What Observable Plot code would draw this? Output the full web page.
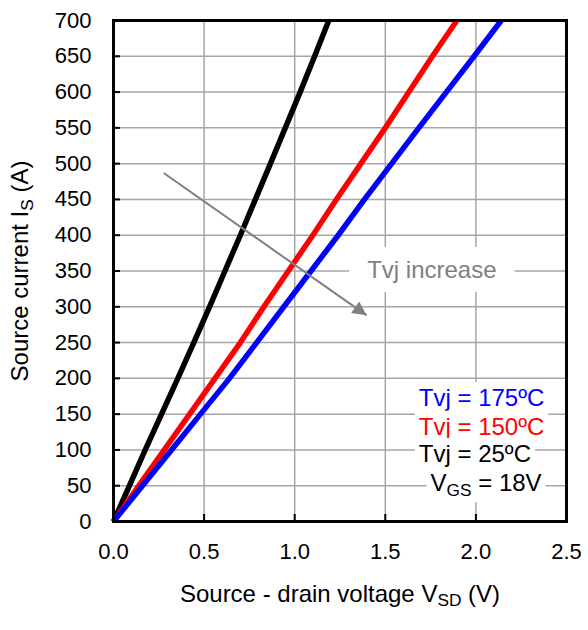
<!DOCTYPE html>
<html><head><meta charset="utf-8">
<script src="https://cdn.jsdelivr.net/npm/d3@7"></script>
<script src="https://cdn.jsdelivr.net/npm/@observablehq/plot@0.6"></script>
<style>
html,body{margin:0;padding:0;background:#fff;}
#chart svg{display:block;}
</style></head><body><div id="chart"></div>
<script>
// ---- data ----
const currents = [0, 50, 100, 150, 200, 250, 300, 350, 400, 450, 500, 550, 600, 650, 700];
const vTvj25  = [0, 0.088, 0.175, 0.265, 0.355, 0.443, 0.530, 0.615, 0.700, 0.783, 0.866, 0.948, 1.030, 1.110, 1.188];
const vTvj150 = [0, 0.140, 0.280, 0.420, 0.560, 0.700, 0.830, 0.965, 1.100, 1.230, 1.365, 1.500, 1.630, 1.760, 1.895];
const vTvj175 = [0, 0.160, 0.320, 0.480, 0.640, 0.790, 0.940, 1.090, 1.240, 1.385, 1.535, 1.685, 1.837, 1.990, 2.140];
const seriesNames  = ["Tvj = 25ºC", "Tvj = 150ºC", "Tvj = 175ºC"];
const seriesColors = ["#000000", "#ff0000", "#0000ff"];
const xTicks = [0, 0.5, 1.0, 1.5, 2.0, 2.5];
const yTicks = [0, 50, 100, 150, 200, 250, 300, 350, 400, 450, 500, 550, 600, 650, 700];
const xTitle = "Source - drain voltage V{SD} (V)";
const yTitle = "Source current I{S} (A)";
const legendLabels = ["Tvj = 175ºC", "Tvj = 150ºC", "Tvj = 25ºC", "V{GS} = 18V"];
const legendColors = ["#0000ff", "#ff0000", "#000000", "#000000"];
const legendV = [1.685, 1.685, 1.685, 1.75];
const legendI = [172, 132, 94, 53];
const arrowV = [0.277, 1.397];
const arrowI = [487, 288];
const noteText = "Tvj increase";
const noteV = 1.757, noteI = 351;

// ---- build tables ----
const seriesVolts = [vTvj25, vTvj150, vTvj175];
const rows = seriesNames.flatMap((s, k) => currents.map((I, i) => ({V: seriesVolts[k][i], I, s})));
const legendRows = legendLabels.map((t, i) => ({t, c: legendColors[i], V: legendV[i], I: legendI[i]}));
const arrowRows = [{x1: arrowV[0], y1: arrowI[0], x2: arrowV[1], y2: arrowI[1]}];

const FONT = "'Liberation Sans', Arial, Helvetica, sans-serif";
const gridStyle = {stroke: "#a6a6a6", strokeOpacity: 1, strokeWidth: 1.5};

const chart = Plot.plot({
  width: 588, height: 630,
  marginLeft: 113, marginRight: 22, marginTop: 20, marginBottom: 109,
  style: {fontFamily: FONT, fontSize: "22px", background: "white", color: "black", overflow: "visible"},
  x: {domain: [0, 2.5]},
  y: {domain: [0, 700]},
  color: {domain: seriesNames, range: seriesColors},
  marks: [
    Plot.gridX(xTicks, gridStyle),
    Plot.gridY(yTicks, gridStyle),
    Plot.line(rows, {x: "V", y: "I", z: "s", stroke: "s", strokeWidth: 5.5, strokeLinecap: "butt"}),
    Plot.frame({stroke: "black", strokeWidth: 3}),
    Plot.axisX(xTicks, {tickSize: 7, dy: -7, strokeWidth: 2, tickFormat: () => "", label: null}),
    Plot.axisY(yTicks, {tickSize: 7, dx: 7, strokeWidth: 2, tickFormat: () => "", label: null}),
    Plot.axisX(xTicks, {tickSize: 0, tickPadding: 22, tickFormat: d3.format(".1f"), label: null, fontSize: 22, fill: "black"}),
    Plot.axisY(yTicks, {tickSize: 0, tickPadding: 22, tickFormat: d3.format("d"), label: null, fontSize: 22, fill: "black"}),
    Plot.text([xTitle], {text: d => d, frameAnchor: "bottom", textAnchor: "middle", dy: 80, fontSize: 24, fill: "black"}),
    Plot.text([yTitle], {text: d => d, frameAnchor: "left", textAnchor: "middle", rotate: -90, dx: -93, fontSize: 24, fill: "black"}),
    Plot.link(arrowRows, {x1: "x1", y1: "y1", x2: "x2", y2: "y2", stroke: "#808080", strokeWidth: 2}),
    Plot.text([noteText], {text: d => d, x: () => noteV, y: () => noteI, fill: "#808080", fontSize: 24}),
    Plot.text(legendRows, {x: "V", y: "I", text: "t", fill: d => d.c, textAnchor: "start", fontSize: 24})
  ]
});
document.getElementById("chart").appendChild(chart);

// ---- post-processing: white label boxes, subscripts, arrowhead ----
const NS = "http://www.w3.org/2000/svg";
const allTexts = Array.from(chart.querySelectorAll("text"));
const noteEls = allTexts.filter(t => t.textContent === noteText);
const legendEls = allTexts.filter(t => legendLabels.includes(t.textContent));

allTexts.forEach(t => {
  const s = t.textContent;
  if (!s.includes("{")) return;
  const fs = parseFloat(getComputedStyle(t).fontSize) || 22;
  t.textContent = "";
  let shifted = false;
  s.split(/(\{[^}]*\})/).forEach(p => {
    if (!p) return;
    const ts = document.createElementNS(NS, "tspan");
    if (p.startsWith("{")) {
      ts.textContent = p.slice(1, -1);
      ts.setAttribute("font-size", fs * 0.72);
      ts.setAttribute("dy", fs * 0.2);
      shifted = true;
    } else {
      ts.textContent = p;
      if (shifted) { ts.setAttribute("dy", -fs * 0.2); shifted = false; }
    }
    t.appendChild(ts);
  });
});

function boxTexts(els, padX, padY) {
  els.forEach(t => {
    const b = t.getBBox();
    const r = document.createElementNS(NS, "rect");
    r.setAttribute("x", b.x - padX);
    r.setAttribute("y", b.y - padY);
    r.setAttribute("width", b.width + 2 * padX);
    r.setAttribute("height", b.height + 2 * padY);
    r.setAttribute("fill", "white");
    r.setAttribute("stroke", "none");
    const tr = t.getAttribute("transform");
    if (tr) r.setAttribute("transform", tr);
    t.parentNode.insertBefore(r, t);
  });
}
boxTexts(noteEls, 18, 9);
boxTexts(legendEls, 4, 2);

const defs = document.createElementNS(NS, "defs");
defs.innerHTML = '<marker id="ahead" viewBox="0 0 10 10" refX="10" refY="5" markerWidth="8" markerHeight="7" orient="auto" markerUnits="strokeWidth"><path d="M0,0L10,5L0,10z" fill="#808080"/></marker>';
chart.insertBefore(defs, chart.firstChild);
chart.querySelectorAll('g[aria-label="link"] path, g[aria-label="link"] line').forEach(p => p.setAttribute("marker-end", "url(#ahead)"));
</script>
</body></html>
